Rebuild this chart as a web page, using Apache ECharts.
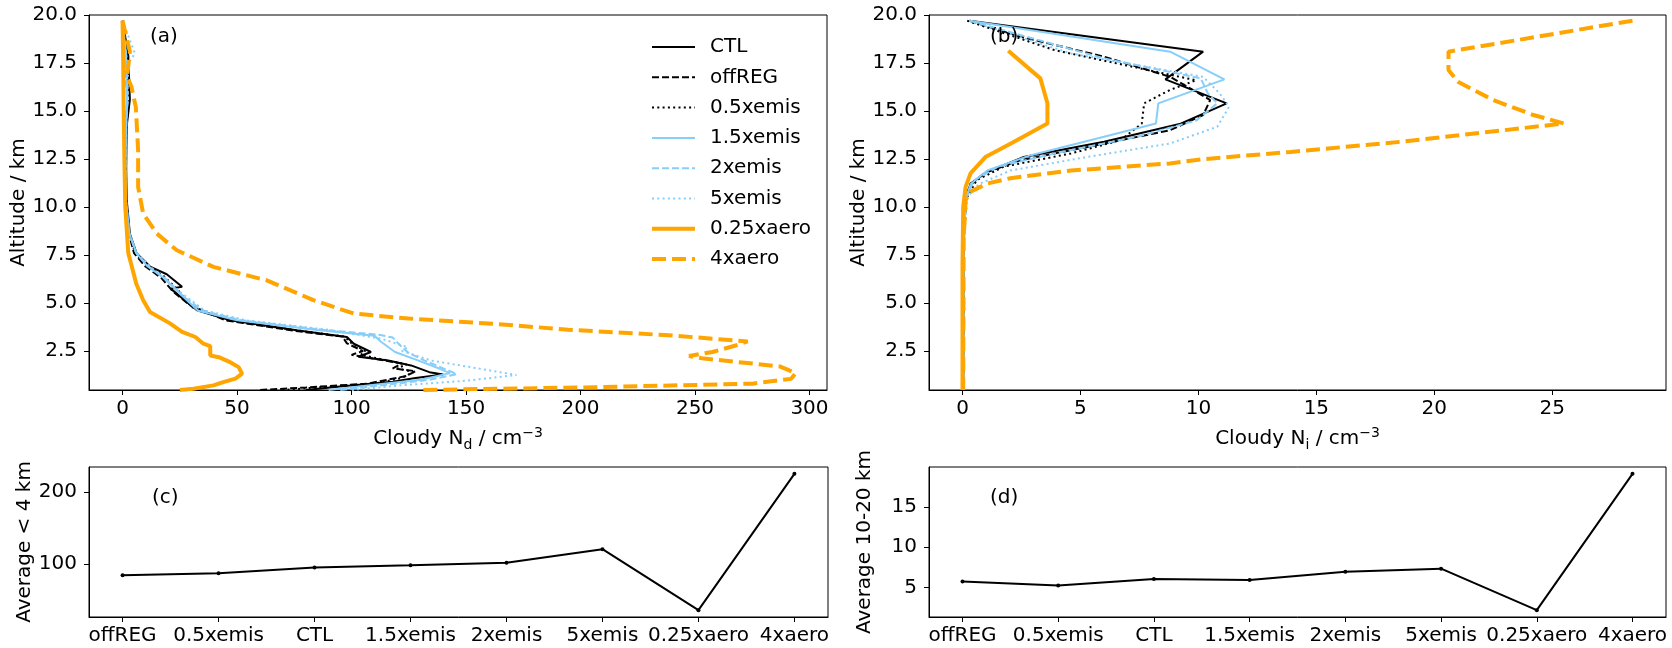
<!DOCTYPE html>
<html>
<head>
    <meta charset="utf-8">
    <script src="https://cdn.jsdelivr.net/npm/echarts@6/dist/echarts.min.js"></script>
    <style type="text/css">
        html, body { width: 100%; height: 100%; margin: 0; background: #fff; }
        #chart { width: 1672px; height: 648px; }
    </style>
</head>
<body>
<div id="chart"></div>
<script type="text/javascript">
    // profiles: [value, altitude km]
    // (a) cloudy Nd
    var ctlA = [[0,19.7],[2.5,17.9],[3.2,15.6],[1.8,14.2],[1.6,12.0],[1.8,10.4],[3.2,8.6],[6.1,7.6],[12,6.9],[19.3,6.5],[26,5.85],[21,5.75],[32.5,4.62],[47,4.1],[76,3.58],[98,3.23],[101,2.88],[108.5,2.45],[103,2.2],[116,2.01],[126,1.75],[134,1.4],[140,1.28],[128,1.1],[118,0.9],[95,0.65],[80,0.47]];
    var offregA = [[0,19.7],[1.5,18.0],[2.0,15.5],[1.5,14.0],[1.3,12.0],[1.4,10.4],[2.8,8.6],[5,7.6],[10,6.9],[17,6.3],[22,5.6],[29.5,4.88],[45,4.1],[75,3.55],[96,3.25],[98,2.9],[105,2.5],[100,2.3],[110,2.1],[122,1.85],[118,1.6],[128,1.45],[124,1.2],[107,0.8],[80,0.6],[60,0.47]];
    var halfA = [[0,19.7],[2,18.0],[2.5,15.5],[1.6,14.0],[1.4,12.0],[1.5,10.4],[3,8.6],[5.5,7.6],[11,6.9],[18,6.4],[24,5.7],[30,4.8],[46,4.1],[76,3.58],[97,3.25],[100,2.9],[106,2.5],[104,2.3],[114,2.05],[124,1.8],[120,1.6],[127,1.4],[122,1.1],[110,0.8],[85,0.6],[70,0.47]];
    var onehalfA = [[0,19.7],[1.5,18.0],[2,15.5],[1.5,14.0],[1.3,12.0],[1.4,10.4],[3,8.6],[6,7.6],[11,6.9],[18,6.3],[25,5.5],[33,4.6],[50,4.1],[85,3.6],[110,3.3],[113,2.97],[119,2.45],[129,2.01],[138,1.6],[143,1.35],[130,1.0],[110,0.75],[90,0.47]];
    var twoA = [[0,19.7],[1.5,18.0],[2.2,15.5],[1.5,14.0],[1.3,12.0],[1.4,10.4],[3,8.6],[6,7.6],[11.5,6.9],[18.5,6.3],[26,5.4],[35,4.6],[52,4.1],[88,3.6],[112,3.35],[118,3.2],[122,2.7],[125,2.4],[132,2.0],[140,1.6],[146,1.3],[134,1.0],[112,0.7],[95,0.47]];
    var fiveA = [[0,19.7],[5.4,18.0],[2.5,17.5],[2,15.5],[1.5,14.0],[1.4,12.0],[1.5,10.4],[3,8.6],[6,7.6],[12,6.9],[19,6.2],[27,5.4],[36,4.6],[54,4.1],[90,3.6],[113,3.14],[124.5,2.7],[122,2.5],[135,2.0],[155,1.6],[172,1.25],[150,0.95],[120,0.7],[100,0.47]];
    var quarterA = [[0,19.7],[0.3,17.5],[0.5,15.0],[0.8,12.5],[1.2,10.0],[2.5,7.6],[6,6.0],[9,5.14],[12,4.53],[20.7,3.94],[26,3.5],[31.8,3.23],[35.3,2.88],[38.3,2.75],[38.3,2.27],[42,2.18],[47,1.92],[50.7,1.66],[52.2,1.32],[49.3,1.06],[44,0.88],[39.7,0.71],[31,0.54],[25,0.47]];
    var fourA = [[0,19.7],[3.2,18.1],[2.0,16.8],[3.9,16.26],[5.8,15.2],[6.8,12.96],[6.8,11.05],[9,9.66],[14.9,8.62],[23.7,7.75],[39.7,6.88],[63,6.18],[83.6,5.14],[101,4.45],[125,4.19],[164,3.9],[194.7,3.61],[238.6,3.32],[273,3.0],[267.8,2.79],[257.6,2.45],[247.4,2.24],[253,2.12],[287,1.7],[294,1.35],[292,1.05],[275,0.8],[200,0.6],[130,0.47]];

    // (b) cloudy Ni
    var ctlB = [[0.3,19.7],[10.2,18.09],[8.6,16.65],[11.2,15.4],[9.2,14.32],[6.0,13.4],[2.6,12.61],[1.05,11.83],[0.34,11.22],[0.13,10.35],[0.05,8],[0.03,0.47]];
    var offregB = [[0.3,19.7],[2.46,18.87],[6.0,17.83],[8.8,16.78],[10.5,15.57],[10.2,14.79],[8.8,14.0],[5.3,13.13],[2.46,12.44],[0.9,11.75],[0.3,11.1],[0.1,10.3],[0.04,8],[0.03,0.47]];
    var halfB = [[0.2,19.7],[3.9,18.17],[9.9,16.6],[8.8,16.1],[7.7,15.4],[7.6,14.35],[6.7,13.48],[4.6,12.79],[1.75,12.1],[0.6,11.4],[0.15,10.4],[0.04,8],[0.03,0.47]];
    var onehalfB = [[0.3,19.7],[8.8,18.09],[11.1,16.65],[8.3,15.4],[8.2,14.35],[6.0,13.66],[2.9,12.7],[1.05,11.9],[0.35,11.2],[0.12,10.4],[0.04,8],[0.03,0.47]];
    var twoB = [[0.3,19.7],[6.0,17.74],[10.1,16.7],[10.4,15.92],[10.8,15.4],[9.9,14.5],[7.4,13.66],[3.9,12.79],[1.5,12.1],[0.5,11.4],[0.15,10.5],[0.04,8],[0.03,0.47]];
    var fiveB = [[0.3,19.7],[4.6,18.0],[10.2,16.78],[10.9,15.92],[11.3,15.22],[10.8,14.18],[8.8,13.31],[5.3,12.61],[2.03,11.9],[0.7,11.2],[0.2,10.5],[0.05,8],[0.03,0.47]];
    var quarterB = [[1.94,18.14],[3.3,16.7],[3.6,15.4],[3.6,14.35],[2.03,13.3],[0.97,12.6],[0.34,11.75],[0.13,11.05],[0.03,10.0],[0,7],[0,0.47]];
    var fourB = [[28.4,19.7],[26.2,19.25],[20.6,18.09],[20.6,17.13],[21,16.52],[22.5,15.57],[24.2,14.79],[25.5,14.35],[18.6,13.4],[13.9,12.87],[10.1,12.48],[8.8,12.27],[4.6,11.9],[2.03,11.5],[1.05,11.22],[0.34,10.8],[0.13,10.35],[0.1,9.5],[0.05,8.5],[0.03,0.47]];

    // (c), (d) averages
    var runs = ['offREG', '0.5xemis', 'CTL', '1.5xemis', '2xemis', '5xemis', '0.25xaero', '4xaero'];
    var avgNd = [84, 87, 95, 98, 101.5, 120.5, 35.5, 225.5];
    var avgNi = [5.75, 5.25, 6.05, 5.95, 6.95, 7.35, 2.2, 19.1];

    // tick labels
    var ticksAltitude = [2.5, 5, 7.5, 10, 12.5, 15, 17.5, 20];
    var ticksNd = [0, 50, 100, 150, 200, 250, 300];
    var ticksNi = [0, 5, 10, 15, 20, 25];
    var ticksAvgNd = [100, 200];
    var ticksAvgNi = [5, 10, 15];
    var legendNames = ['CTL', 'offREG', '0.5xemis', '1.5xemis', '2xemis', '5xemis', '0.25xaero', '4xaero'];

    var FONT = 'DejaVu Sans';
    var BLUE = '#87CEFA';
    var ORANGE = '#FFA500';

    var styles = {
        'CTL':       {color: '#000', width: 2, type: 'solid'},
        'offREG':    {color: '#000', width: 2, type: [7, 3]},
        '0.5xemis':  {color: '#000', width: 2, type: [2, 3.3]},
        '1.5xemis':  {color: BLUE, width: 2, type: 'solid'},
        '2xemis':    {color: BLUE, width: 2, type: [7, 3]},
        '5xemis':    {color: BLUE, width: 2, type: [2, 3.3]},
        '0.25xaero': {color: ORANGE, width: 4, type: 'solid'},
        '4xaero':    {color: ORANGE, width: 4, type: [14, 6]}
    };

    function profile(name, data, idx) {
        var s = styles[name];
        return {
            name: name, type: 'line', xAxisIndex: idx, yAxisIndex: idx,
            data: data, symbol: 'none', showSymbol: false, smooth: false,
            color: s.color,
            lineStyle: {color: s.color, width: s.width, type: s.type, cap: 'butt'},
            emphasis: {disabled: true}, z: 2
        };
    }

    function avgLine(values, idx) {
        return {
            type: 'line', xAxisIndex: idx, yAxisIndex: idx,
            data: values.map(function (v, i) { return [i, v]; }),
            symbol: 'circle', symbolSize: 4, showSymbol: true,
            itemStyle: {color: '#000'},
            lineStyle: {color: '#000', width: 2},
            emphasis: {disabled: true}
        };
    }

    var label = {color: '#000', fontFamily: FONT, fontSize: 20};
    var rich = {
        t: {fontFamily: FONT, fontSize: 20, color: '#000', lineHeight: 26},
        sub: {fontFamily: FONT, fontSize: 14, color: '#000', verticalAlign: 'bottom', lineHeight: 14},
        sup: {fontFamily: FONT, fontSize: 14, color: '#000', verticalAlign: 'top', lineHeight: 14}
    };

    function valueAxis(opt) {
        return Object.assign({
            type: 'value', scale: true,
            splitLine: {show: false},
            axisLine: {show: true, onZero: false, lineStyle: {color: '#000', width: 1}},
            axisTick: {show: true, inside: false, length: 5, lineStyle: {color: '#000', width: 1}},
            nameLocation: 'middle',
            nameTextStyle: {color: '#000', fontFamily: FONT, fontSize: 20, rich: rich}
        }, opt);
    }

    function fixedTicks(ticks, fmt, margin) {
        return {
            axisLabel: Object.assign({margin: margin, customValues: ticks, formatter: fmt, showMinLabel: true, showMaxLabel: true}, label),
            axisTick: {show: true, inside: false, length: 5, customValues: ticks, lineStyle: {color: '#000', width: 1}}
        };
    }

    var grids = [
        {left: 89, top: 15, width: 738, height: 375},
        {left: 929, top: 15, width: 737, height: 375},
        {left: 89, top: 467, width: 739, height: 150},
        {left: 929, top: 467, width: 737, height: 150}
    ].map(function (g) {
        return Object.assign({show: true, borderColor: '#000', borderWidth: 1, backgroundColor: 'transparent', containLabel: false, outerBoundsMode: 'none'}, g);
    });

    var altFmt = function (v) { return v.toFixed(1); };
    var intFmt = function (v) { return String(v); };
    var runFmt = function (v) { return runs[Math.round(v)]; };

    var xAxes = [
        valueAxis(Object.assign({gridIndex: 0, min: -14.65, max: 307.65, nameGap: 36,
            name: '{t|Cloudy N}{sub|d}{t| / cm}{sup|\u22123}'}, fixedTicks(ticksNd, intFmt, 9))),
        valueAxis(Object.assign({gridIndex: 1, min: -1.42, max: 29.82, nameGap: 36,
            name: '{t|Cloudy N}{sub|i}{t| / cm}{sup|\u22123}'}, fixedTicks(ticksNi, intFmt, 9))),
        valueAxis(Object.assign({gridIndex: 2, min: -0.35, max: 7.35}, fixedTicks([0, 1, 2, 3, 4, 5, 6, 7], runFmt, 9))),
        valueAxis(Object.assign({gridIndex: 3, min: -0.35, max: 7.35}, fixedTicks([0, 1, 2, 3, 4, 5, 6, 7], runFmt, 9)))
    ];
    var yAxes = [
        valueAxis(Object.assign({gridIndex: 0, min: 0.47, max: 20, name: 'Altitude / km', nameGap: 54}, fixedTicks(ticksAltitude, altFmt, 12))),
        valueAxis(Object.assign({gridIndex: 1, min: 0.47, max: 20, name: 'Altitude / km', nameGap: 54}, fixedTicks(ticksAltitude, altFmt, 12))),
        valueAxis(Object.assign({gridIndex: 2, min: 26, max: 235, name: 'Average < 4 km', nameGap: 54}, fixedTicks(ticksAvgNd, intFmt, 12))),
        valueAxis(Object.assign({gridIndex: 3, min: 1.355, max: 19.945, name: 'Average 10-20 km', nameGap: 54}, fixedTicks(ticksAvgNi, intFmt, 12)))
    ];

    var series = [
        profile('CTL', ctlA, 0), profile('offREG', offregA, 0), profile('0.5xemis', halfA, 0),
        profile('1.5xemis', onehalfA, 0), profile('2xemis', twoA, 0), profile('5xemis', fiveA, 0),
        profile('0.25xaero', quarterA, 0), profile('4xaero', fourA, 0),
        profile('CTL', ctlB, 1), profile('offREG', offregB, 1), profile('0.5xemis', halfB, 1),
        profile('1.5xemis', onehalfB, 1), profile('2xemis', twoB, 1), profile('5xemis', fiveB, 1),
        profile('0.25xaero', quarterB, 1), profile('4xaero', fourB, 1),
        avgLine(avgNd, 2), avgLine(avgNi, 3)
    ];

    function panelLabel(text, x, y) {
        return {type: 'text', x: x, y: y, z: 10,
            style: {text: text, fill: '#000', font: '20px "DejaVu Sans"', textVerticalAlign: 'middle'}};
    }

    var legendData = legendNames.map(function (n) {
        var s = styles[n];
        return {name: n, lineStyle: {color: s.color, width: s.width, type: s.type, cap: 'butt'}};
    });

    var option = {
        animation: false,
        backgroundColor: '#fff',
        textStyle: {fontFamily: FONT},
        grid: grids,
        xAxis: xAxes,
        yAxis: yAxes,
        legend: {
            data: legendData, orient: 'vertical', left: 645, top: 32,
            itemWidth: 43, itemHeight: 14, itemGap: 10.3,
            itemStyle: {opacity: 0, borderWidth: 0},
            textStyle: {color: '#000', fontFamily: FONT, fontSize: 20, lineHeight: 20, padding: [0, 0, 0, 10]},
            selectedMode: false
        },
        graphic: [
            panelLabel('(a)', 150, 37),
            panelLabel('(b)', 990, 37),
            panelLabel('(c)', 152, 498),
            panelLabel('(d)', 990, 498)
        ],
        series: series
    };

    var myChart = echarts.init(document.getElementById('chart'), null, {renderer: 'canvas'});
    myChart.setOption(option);
</script>
</body>
</html>
